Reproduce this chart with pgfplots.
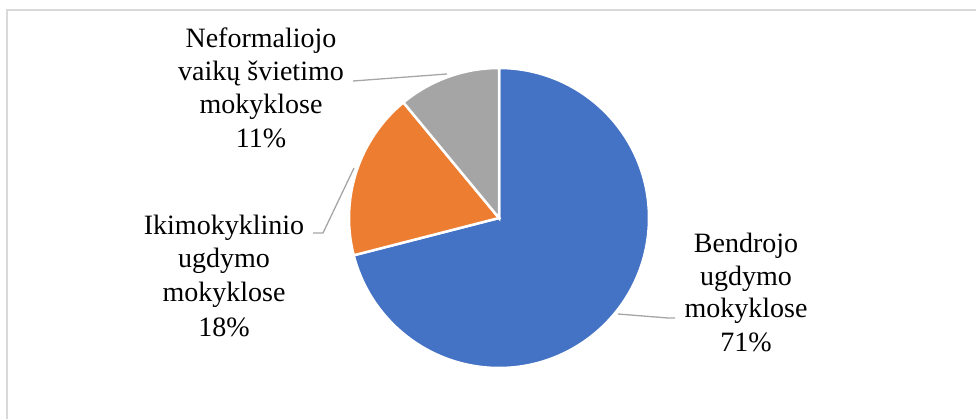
\documentclass[border=0pt]{standalone}
\usepackage{fontspec}
\setmainfont{Liberation Serif}
\usepackage{pgfplots}
\usepackage{pgfplotstable}
\pgfplotsset{compat=1.18}

\definecolor{pieblue}{HTML}{4472C4}
\definecolor{pieorange}{HTML}{ED7D31}
\definecolor{piegray}{HTML}{A5A5A5}
\definecolor{leader}{HTML}{A6A6A6}
\definecolor{frame}{HTML}{D9D9D9}

% shares in percent, clockwise from 12 o'clock
\pgfplotstableread{
share
71
18
11
}\piedata

\begin{document}
\begin{tikzpicture}
\pgfplotstablegetelem{0}{share}\of\piedata \let\va\pgfplotsretval
\pgfplotstablegetelem{1}{share}\of\piedata \let\vb\pgfplotsretval
\pgfplotstablegetelem{2}{share}\of\piedata \let\vc\pgfplotsretval
\pgfmathsetmacro\aA{90-3.6*\va}
\pgfmathsetmacro\aB{\aA-3.6*\vb}
\pgfmathsetmacro\aC{\aB-3.6*\vc}
\path[use as bounding box] (0,0) rectangle (976bp,419bp);
\begin{axis}[
    at={(0,0)}, anchor=south west,
    x=1bp, y=1bp,
    xmin=0, xmax=976, ymin=0, ymax=419,
    hide axis,
    clip=false,
]
% frame (only top and left edges are visible)
\draw[frame, line width=2bp] (axis cs:7,0) -- (axis cs:7,409) -- (axis cs:976,409);

% slices
\filldraw[fill=pieblue, draw=white, line width=2.5bp]
  (axis cs:499,201) -- ([shift={(90:150bp)}]axis cs:499,201)
  arc[start angle=90, end angle=\aA, radius=150bp] -- cycle;
\filldraw[fill=pieorange, draw=white, line width=2.5bp]
  (axis cs:499,201) -- ([shift={(\aA:150bp)}]axis cs:499,201)
  arc[start angle=\aA, end angle=\aB, radius=150bp] -- cycle;
\filldraw[fill=piegray, draw=white, line width=2.5bp]
  (axis cs:499,201) -- ([shift={(\aB:150bp)}]axis cs:499,201)
  arc[start angle=\aB, end angle=\aC, radius=150bp] -- cycle;

% leader lines
\draw[leader, line width=1.3bp] (axis cs:353,338) -- (axis cs:447,345);
\draw[leader, line width=1.3bp] (axis cs:313,186) -- (axis cs:323,186) -- (axis cs:354,251);
\draw[leader, line width=1.3bp] (axis cs:618,105) -- (axis cs:668,101) -- (axis cs:675,101);

% labels
\begin{scope}[every node/.style={anchor=base, inner sep=0pt,
    font=\fontsize{28bp}{33bp}\selectfont}]
\node at (axis cs:261,372) {Neformaliojo};
\node at (axis cs:261,339) {vaikų švietimo};
\node at (axis cs:261,306) {mokyklose};
\node at (axis cs:261,272) {11\%};

\node at (axis cs:224,185) {Ikimokyklinio};
\node at (axis cs:224,152) {ugdymo};
\node at (axis cs:224,118) {mokyklose};
\node at (axis cs:224,83) {18\%};

\node at (axis cs:746,167) {Bendrojo};
\node at (axis cs:746,134) {ugdymo};
\node at (axis cs:746,102) {mokyklose};
\node at (axis cs:746,68) {71\%};
\end{scope}
\end{axis}
\end{tikzpicture}
\end{document}
